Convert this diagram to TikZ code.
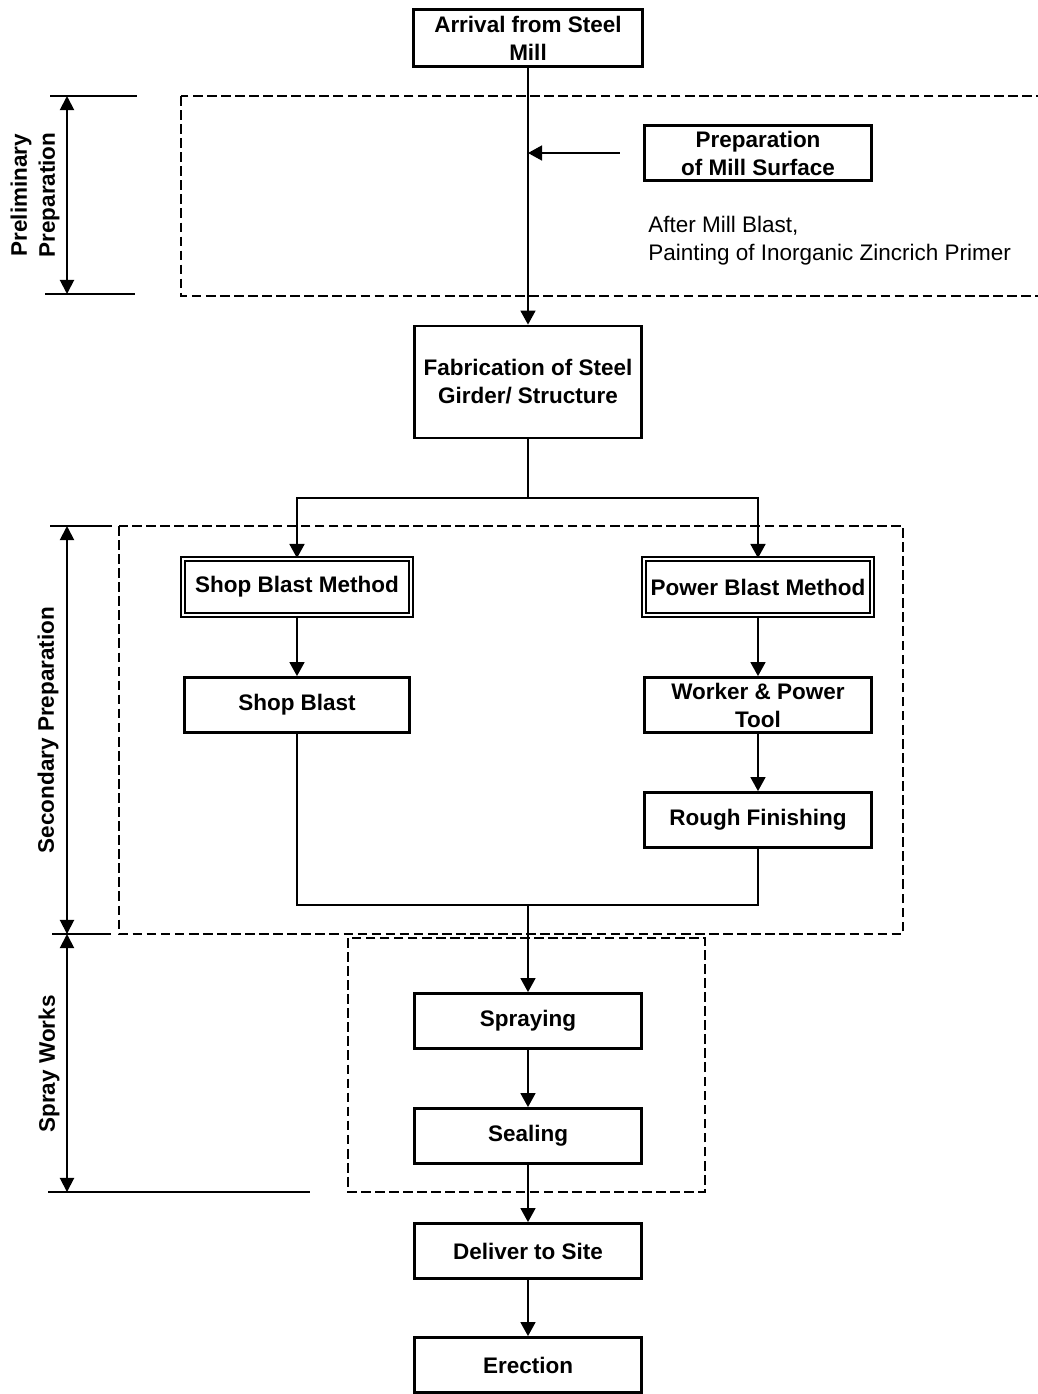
\documentclass[tikz,border=0pt]{standalone}
\usepackage{fontspec}
\setmainfont{Liberation Sans}
\usetikzlibrary{arrows.meta,positioning}

\begin{document}
\begin{tikzpicture}[x=0.02cm,y=-0.02cm,
  box/.style={draw,line width=1.6pt,minimum width=4.55cm,minimum height=1.1cm,align=center,inner sep=1pt,font=\fontsize{12.8}{15.9}\selectfont\bfseries},
  dbox/.style={box,double,line width=1.1pt,double distance=1.3pt,minimum width=4.56cm,minimum height=1.12cm},
  arr/.style={line width=1.1pt,-{Triangle[length=8pt,width=8.5pt]}},
  dimline/.style={line width=1.1pt,{Triangle[length=8pt,width=8pt]}-{Triangle[length=8pt,width=8pt]}},
  zone/.style={draw,line width=1pt,dash pattern=on 5.5pt off 2.5pt},
  side/.style={rotate=90,align=center,font=\fontsize{12.8}{15.9}\selectfont\bfseries}]
\useasboundingbox (0,0) rectangle (1038,1394);

% zones
\draw[zone] (181,96) rectangle (1060,296);
\draw[zone] (119,526) rectangle (903,934);
\draw[zone] (348,938) rectangle (705,1192);

% steps
\node[box,minimum width=4.58cm,minimum height=1.14cm] (mill) at (528,38) {Arrival from Steel\\Mill};
\node[box] (prep) at (758,153) {Preparation\\of Mill Surface};
\node[anchor=west,inner sep=0pt,align=left,font=\fontsize{12.8}{15.9}\selectfont] (note) at (648,241) {After Mill Blast,\\Painting of Inorganic Zincrich Primer};
\node[box,minimum height=2.24cm] (fab) at (528,382) {Fabrication of Steel\\Girder/ Structure};
\node[dbox] (sbm) at (297,587) {Shop Blast Method};
\node[dbox] (pbm) at (758,587) {Power Blast Method};
\node[box,minimum width=4.5cm] (sb) at (297,705) {Shop Blast};
\node[box] (wpt) at (758,705) {Worker \& Power\\Tool};
\node[box] (rf) at (758,820) {Rough Finishing};
\node[box] (spr) at (528,1021) {Spraying};
\node[box] (seal) at (528,1136) {Sealing};
\node[box] (del) at (528,1251) {Deliver to Site};
\node[box] (ere) at (528,1365) {Erection};

\coordinate (split) at (528,498);
\coordinate (merge) at (528,905);

% flow
\draw[arr] (mill) -- (fab);
\draw[arr] ([xshift=-0.46cm]prep.west) -- (prep.west -| mill.south);
\draw[line width=1.1pt] (fab) -- (split);
\draw[arr] (split) -| (sbm);
\draw[arr] (split) -| (pbm);
\draw[arr] (sbm) -- (sb);
\draw[arr] (pbm) -- (wpt);
\draw[arr] (wpt) -- (rf);
\draw[line width=1.1pt] (sb) |- (merge) -| (rf);
\draw[arr] (merge) -- (spr);
\draw[arr] (spr) -- (seal);
\draw[arr] (seal) -- (del);
\draw[arr] (del) -- (ere);

% stage marks
\draw[line width=1.1pt] (50,96) -- (137,96);
\draw[line width=1.1pt] (45,294) -- (135,294);
\draw[line width=1.1pt] (50,526) -- (112,526);
\draw[line width=1.1pt] (52,934) -- (111,934);
\draw[line width=1.1pt] (48,1192) -- (310,1192);
\draw[dimline] (67,96) -- (67,294);
\draw[dimline] (67,526) -- (67,934);
\draw[dimline] (67,934) -- (67,1192);
\node[side] (lpre) at (35,195) {Preliminary\\Preparation};
\node[side] (lsec) at (48,730) {Secondary Preparation};
\node[side] (lspr) at (49,1064) {Spray Works};
\end{tikzpicture}
\end{document}
